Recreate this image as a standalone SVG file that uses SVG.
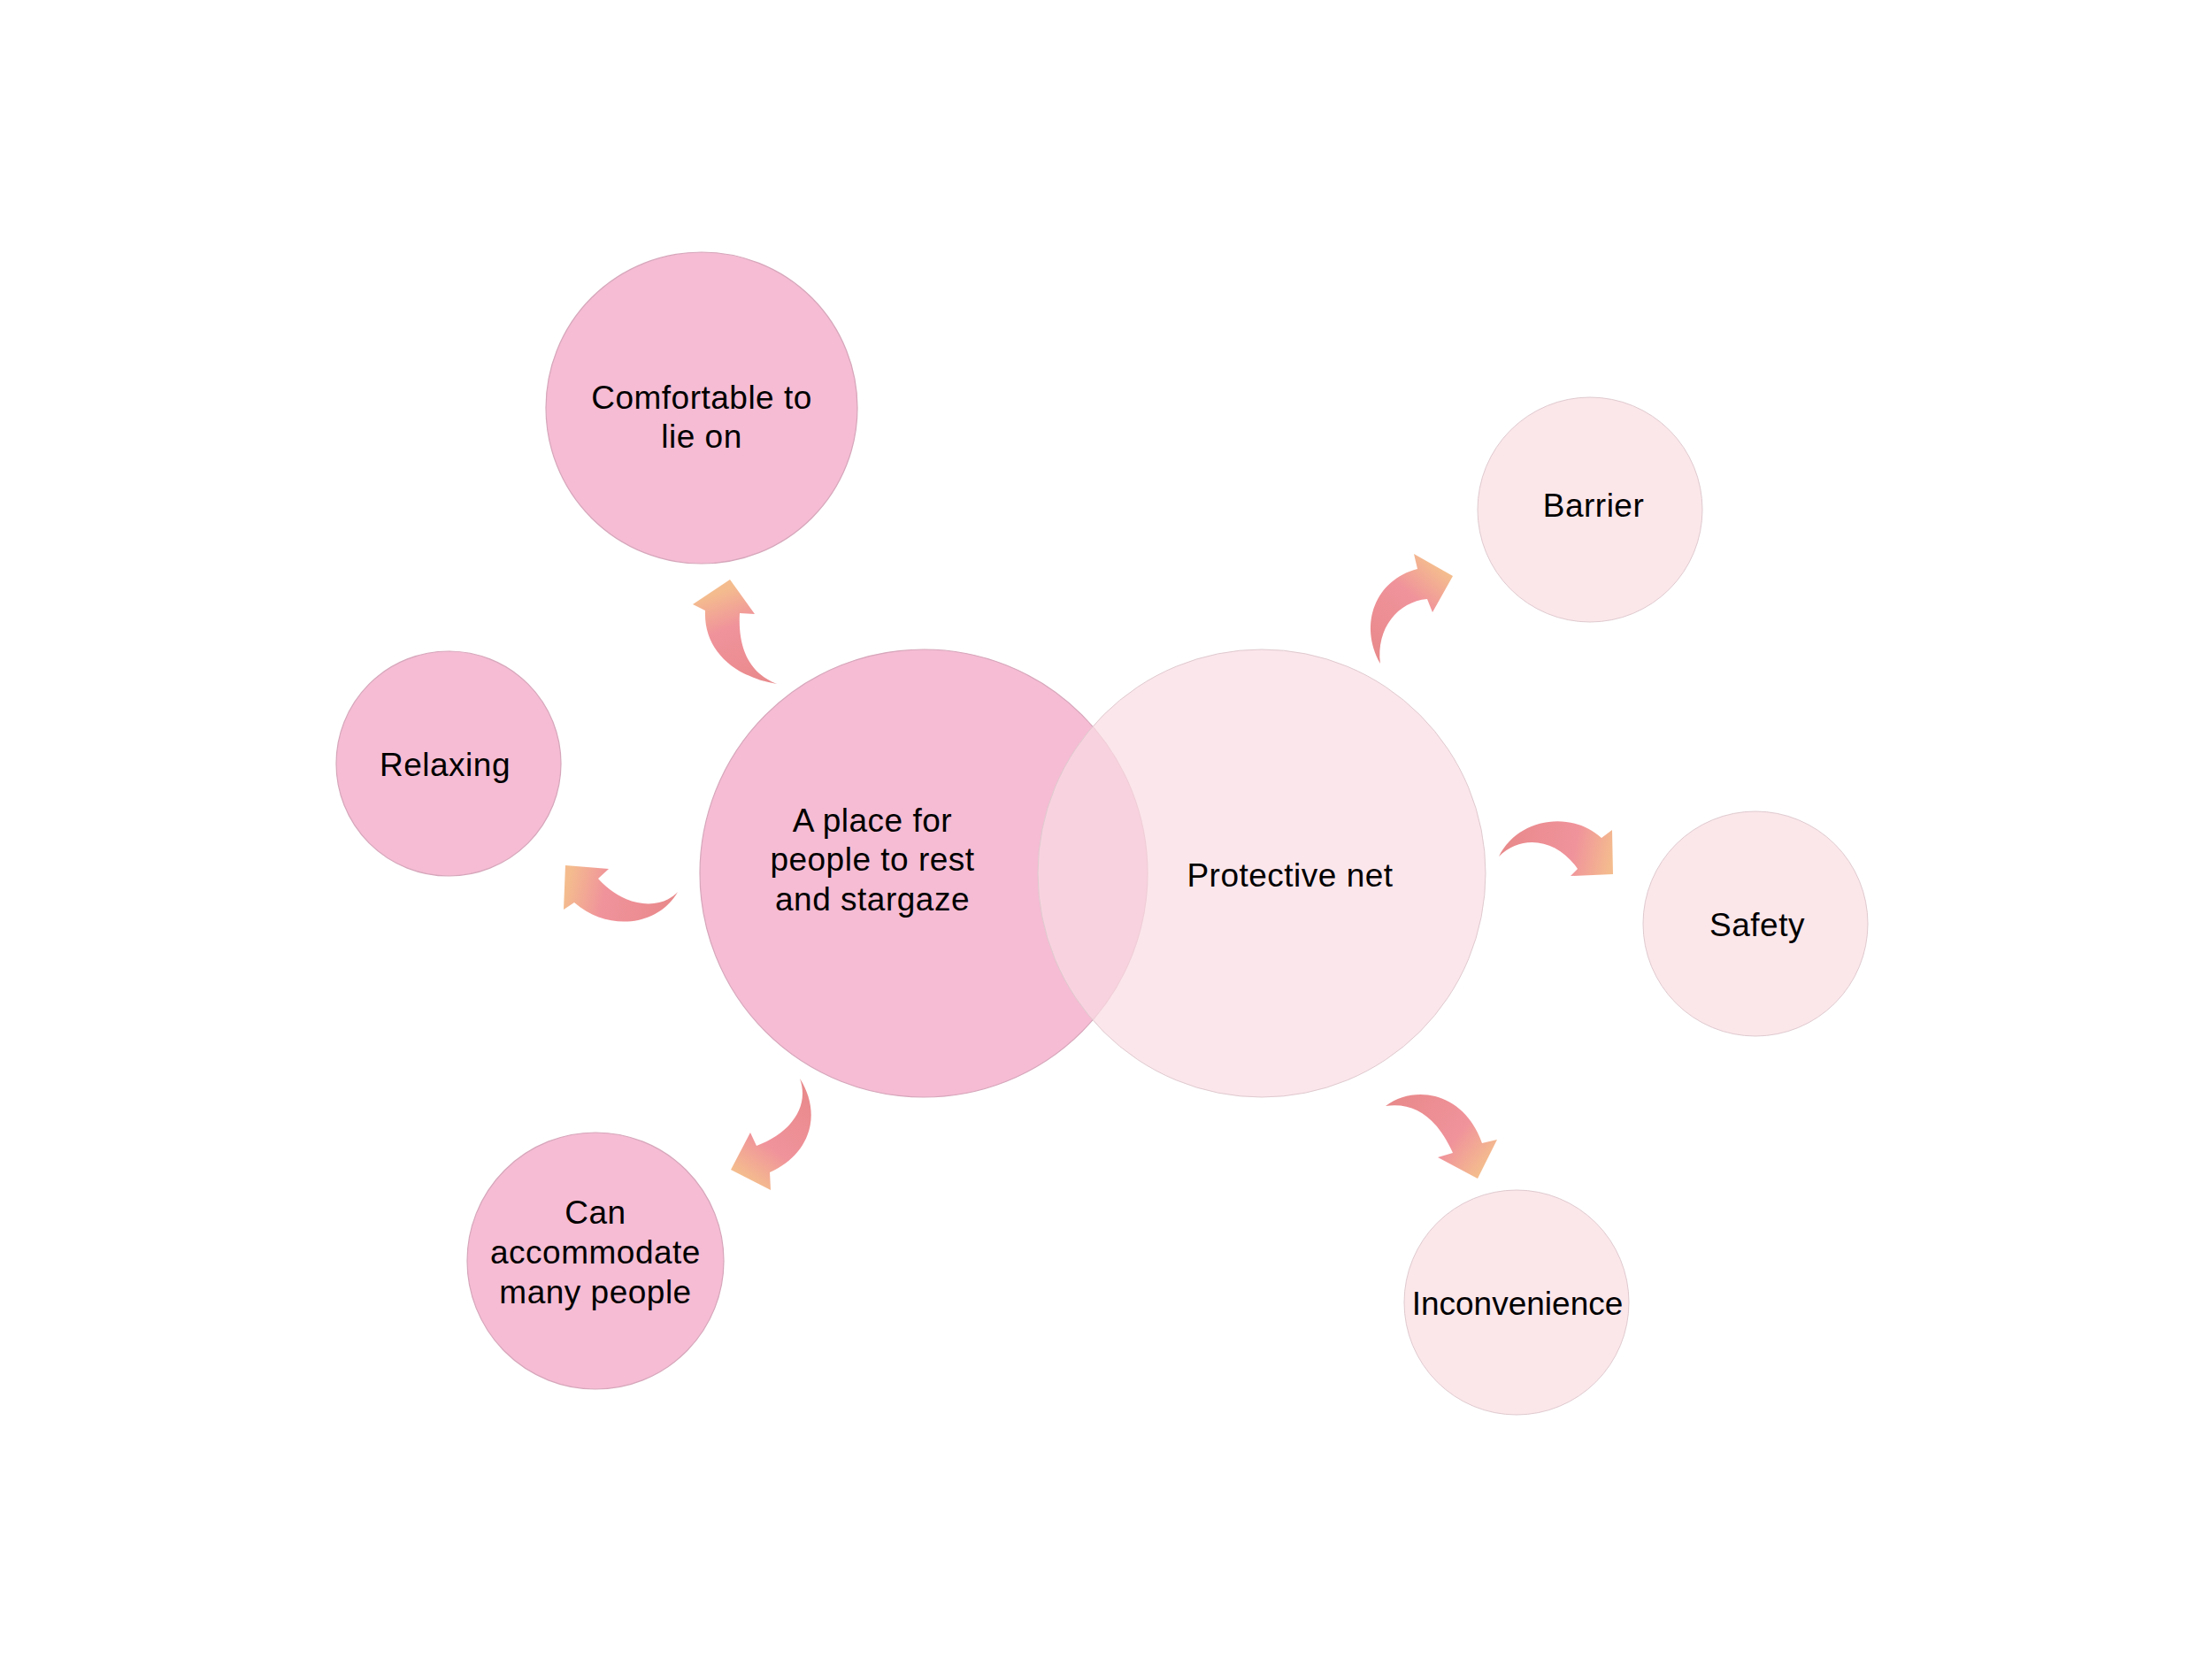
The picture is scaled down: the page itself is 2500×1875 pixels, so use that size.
<svg xmlns="http://www.w3.org/2000/svg" width="2500" height="1875" viewBox="0 0 2500 1875">
<style>
.dark{fill:#F5BCD3;stroke:#D6A6BA;stroke-width:1.2}
.light{fill:#FBE6EA;stroke:#DFCACF;stroke-width:1}
.t{font-family:"Liberation Sans",Arial,sans-serif;font-size:37px;fill:#000;text-anchor:middle;letter-spacing:0.5px}
</style>
<defs>
<linearGradient id="g1" gradientUnits="userSpaceOnUse" x1="878" y1="773" x2="835" y2="660"><stop offset="0" stop-color="#E8898B"/><stop offset="0.65" stop-color="#F0939B"/><stop offset="1" stop-color="#F4BC8E"/></linearGradient>
<linearGradient id="g2" gradientUnits="userSpaceOnUse" x1="766" y1="1008" x2="645" y2="982"><stop offset="0" stop-color="#E8898B"/><stop offset="0.65" stop-color="#F0939B"/><stop offset="1" stop-color="#F4BC8E"/></linearGradient>
<linearGradient id="g3" gradientUnits="userSpaceOnUse" x1="904" y1="1219" x2="830" y2="1322"><stop offset="0" stop-color="#E8898B"/><stop offset="0.65" stop-color="#F0939B"/><stop offset="1" stop-color="#F4BC8E"/></linearGradient>
<linearGradient id="g4" gradientUnits="userSpaceOnUse" x1="1560" y1="750" x2="1642" y2="655"><stop offset="0" stop-color="#E8898B"/><stop offset="0.65" stop-color="#F0939B"/><stop offset="1" stop-color="#F4BC8E"/></linearGradient>
<linearGradient id="g5" gradientUnits="userSpaceOnUse" x1="1694" y1="968" x2="1818" y2="992"><stop offset="0" stop-color="#E8898B"/><stop offset="0.65" stop-color="#F0939B"/><stop offset="1" stop-color="#F4BC8E"/></linearGradient>
<linearGradient id="g6" gradientUnits="userSpaceOnUse" x1="1566" y1="1250" x2="1668" y2="1330"><stop offset="0" stop-color="#E8898B"/><stop offset="0.65" stop-color="#F0939B"/><stop offset="1" stop-color="#F4BC8E"/></linearGradient>
</defs>
<rect width="2500" height="1875" fill="#FFFFFF"/>

<g id="node-main">
<circle class="dark" cx="1044" cy="987" r="253"/>
<text class="t" x="986" y="940">A place for</text>
<text class="t" x="986" y="984">people to rest</text>
<text class="t" x="986" y="1029">and stargaze</text>
</g>
<g id="node-net">
<circle class="light" cx="1426" cy="987" r="253" style="fill:#F9DCE3;fill-opacity:0.72"/>
<text class="t" x="1458" y="1002">Protective net</text>
</g>
<g id="node-comfortable">
<circle class="dark" cx="793" cy="461" r="176"/>
<text class="t" x="793" y="462">Comfortable to</text>
<text class="t" x="793" y="506">lie on</text>
</g>
<g id="node-relaxing">
<circle class="dark" cx="507" cy="863" r="127"/>
<text class="t" x="503" y="877">Relaxing</text>
</g>
<g id="node-accommodate">
<circle class="dark" cx="673" cy="1425" r="145"/>
<text class="t" x="673" y="1383">Can</text>
<text class="t" x="673" y="1428">accommodate</text>
<text class="t" x="673" y="1473">many people</text>
</g>
<g id="node-barrier">
<circle class="light" cx="1797" cy="576" r="127"/>
<text class="t" x="1801" y="584">Barrier</text>
</g>
<g id="node-safety">
<circle class="light" cx="1984" cy="1044" r="127"/>
<text class="t" x="1986" y="1058">Safety</text>
</g>
<g id="node-inconvenience">
<circle class="light" cx="1714" cy="1472" r="127"/>
<text class="t" x="1715" y="1486" style="letter-spacing:0">Inconvenience</text>
</g>

<g id="connectors">
<path fill="url(#g1)" d="M 878 773 C 830 765 795 735 797 690 L 783 683 L 825 655 L 853 694 L 836 693 C 834 730 845 760 878 773 Z"/>
<path fill="url(#g2)" d="M 766 1008 C 745 1045 690 1055 649 1020 L 637 1028 L 639 978 L 688 982 L 676 993 C 705 1025 745 1030 766 1008 Z"/>
<path fill="url(#g3)" d="M 904 1219 C 930 1260 915 1305 870 1325 L 871 1345 L 826 1322 L 848 1280 L 855 1295 C 895 1280 915 1250 904 1219 Z"/>
<path fill="url(#g4)" d="M 1560 750 C 1535 705 1555 655 1602 643 L 1598 626 L 1642 651 L 1619 692 L 1613 677 C 1580 680 1555 710 1560 750 Z"/>
<path fill="url(#g5)" d="M 1694 968 C 1715 925 1775 915 1810 947 L 1822 938 L 1823 988 L 1775 990 L 1783 982 C 1760 948 1720 942 1694 968 Z"/>
<path fill="url(#g6)" d="M 1566 1250 C 1600 1225 1655 1235 1675 1292 L 1692 1288 L 1670 1332 L 1625 1308 L 1642 1303 C 1625 1265 1600 1245 1566 1250 Z"/>
</g>
</svg>
